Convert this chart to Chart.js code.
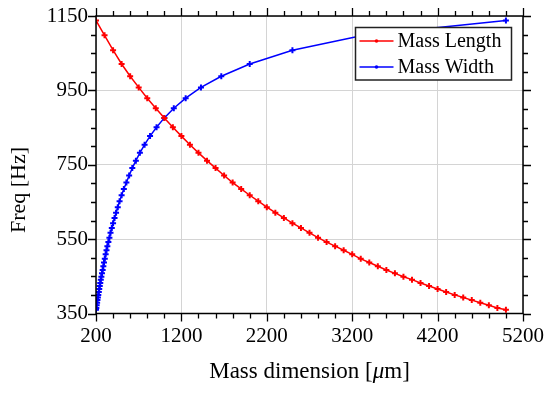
<!DOCTYPE html>
<html>
<head>
<meta charset="utf-8">
<script src="https://cdn.jsdelivr.net/npm/chart.js@4/dist/chart.umd.min.js"></script>
<style>
html,body{margin:0;padding:0;background:#fff;}
#wrap{width:550px;height:393px;position:relative;}
</style>
</head>
<body>
<div id="wrap"><canvas id="c" width="550" height="393"></canvas></div>
<script>
// Mass Length series: x = mass length [um], y = frequency [Hz]
const lengthX = [200,300,400,500,600,700,800,900,1000,1100,1200,1300,1400,1500,1600,1700,1800,1900,2000,2100,2200,2300,2400,2500,2600,2700,2800,2900,3000,3100,3200,3300,3400,3500,3600,3700,3800,3900,4000,4100,4200,4300,4400,4500,4600,4700,4800,4900,5000];
const lengthFreq = [1138,1098,1058,1021,988,958,929,902,876,851,827,804,782,761,741,721,702,685,668,652,636,621,607,593,580,567,554,542,531,520,509,497,487,477,467,458,449,441,432,424,416,408,400,393,386,379,372,365,360];
// Mass Width series
const widthX = [5000,3333,2500,2000,1667,1429,1250,1111,1000,909,833,769,714,667,625,588,556,526,500,476,455,435,417,400,385,370,357,345,333,323,313,303,294,286,278,270,263,256,250,244,238,233,227,222,217,213,208,204,200];
const widthFreq = [1138,1098,1058,1021,988,958,929,902,876,851,827,804,782,761,741,721,702,685,668,652,636,621,607,593,580,567,554,542,531,520,509,497,487,477,467,458,449,441,432,424,416,408,400,393,386,379,372,365,360];
const seriesNames = ["Mass Length","Mass Width"];
const xTickValues = [200,1200,2200,3200,4200,5200];
const yTickValues = [350,550,750,950,1150];
const xTitleMain = "Mass dimension [";
const xTitleMu = "\u03BC";
const xTitleEnd = "m]";
const yTitle = "Freq [Hz]";

const FONT = "'Liberation Serif','Times New Roman',serif";
const TARGET = { left: 96, top: 16, right: 523, bottom: 313.5 };

const framePlugin = {
  id: 'frame',
  afterDraw(chart) {
    const ctx = chart.ctx;
    const a = chart.chartArea;
    const xs = chart.scales.x, ys = chart.scales.y;
    ctx.save();
    ctx.strokeStyle = '#000';
    ctx.lineWidth = 1.5;
    ctx.strokeRect(a.left, a.top, a.right - a.left, a.bottom - a.top);
    ctx.lineWidth = 1.3;
    ctx.beginPath();
    for (let v = xs.min; v <= xs.max + 1e-6; v += 200) {
      const px = Math.round(xs.getPixelForValue(v)) + 0.5;
      const major = ((v - 200) % 1000) === 0;
      const len = major ? 8 : 5;
      ctx.moveTo(px, a.bottom); ctx.lineTo(px, a.bottom + len);
      ctx.moveTo(px, a.top); ctx.lineTo(px, a.top - len);
    }
    for (let v = ys.min; v <= ys.max + 1e-6; v += 50) {
      const py = Math.round(ys.getPixelForValue(v)) + 0.5;
      const major = ((v - 350) % 200) === 0;
      const len = major ? 8 : 5;
      ctx.moveTo(a.left, py); ctx.lineTo(a.left - len, py);
      ctx.moveTo(a.right, py); ctx.lineTo(a.right + len, py);
    }
    ctx.stroke();

    // axis titles
    ctx.fillStyle = '#000';
    const XF = 23;
    ctx.font = XF + 'px ' + FONT;
    ctx.textBaseline = 'middle';
    const w1 = ctx.measureText(xTitleMain).width;
    ctx.font = 'italic ' + XF + 'px ' + FONT;
    const w2 = ctx.measureText(xTitleMu).width;
    ctx.font = XF + 'px ' + FONT;
    const w3 = ctx.measureText(xTitleEnd).width;
    const cx = (a.left + a.right) / 2;
    let sx = cx - (w1 + w2 + w3) / 2;
    const ty = 372;
    ctx.textAlign = 'left';
    ctx.fillText(xTitleMain, sx, ty);
    ctx.font = 'italic ' + XF + 'px ' + FONT;
    ctx.fillText(xTitleMu, sx + w1, ty);
    ctx.font = XF + 'px ' + FONT;
    ctx.fillText(xTitleEnd, sx + w1 + w2, ty);

    ctx.save();
    ctx.translate(19, 190);
    ctx.rotate(-Math.PI / 2);
    ctx.textAlign = 'center';
    ctx.font = '22px ' + FONT;
    ctx.fillText(yTitle, 0, 0);
    ctx.restore();

    // legend
    const lx = 355.5, ly = 27.5, lw = 156, lh = 52.5;
    ctx.fillStyle = '#fff';
    ctx.fillRect(lx, ly, lw, lh);
    ctx.strokeStyle = '#222';
    ctx.lineWidth = 1.5;
    ctx.strokeRect(lx, ly, lw, lh);
    chart.data.datasets.forEach((ds, i) => {
      const yy = ly + 13.5 + i * 26;
      ctx.strokeStyle = ds.borderColor;
      ctx.lineWidth = 1.5;
      ctx.beginPath();
      ctx.moveTo(lx + 4, yy); ctx.lineTo(lx + 38, yy);
      ctx.stroke();
      ctx.fillStyle = ds.borderColor;
      ctx.beginPath();
      ctx.arc(lx + 21, yy, 1.8, 0, Math.PI * 2);
      ctx.fill();
      ctx.fillStyle = '#000';
      ctx.font = '20px ' + FONT;
      ctx.textAlign = 'left';
      ctx.textBaseline = 'middle';
      ctx.fillText(ds.label, lx + 42, yy + 1);
    });
    ctx.restore();
  }
};

const layoutPad = { top: 16, right: 27, left: 0, bottom: 0 };
const fit = { yWidth: 96, xHeight: 79.5 };
function zeroPad(scale) {
  scale.paddingTop = 0; scale.paddingBottom = 0;
  scale.paddingLeft = 0; scale.paddingRight = 0;
}

const chart = new Chart(document.getElementById('c'), {
  type: 'scatter',
  data: {
    datasets: [
      {
        label: seriesNames[0],
        data: lengthX.map((x, i) => ({x: x, y: lengthFreq[i]})),
        showLine: true,
        borderColor: '#ff0000',
        backgroundColor: '#ff0000',
        borderWidth: 1.5,
        pointStyle: 'cross',
        pointRadius: 3,
        pointBorderWidth: 2,
        pointHoverRadius: 3,
        tension: 0
      },
      {
        label: seriesNames[1],
        data: widthX.map((x, i) => ({x: x, y: widthFreq[i]})),
        showLine: true,
        borderColor: '#0000ff',
        backgroundColor: '#0000ff',
        borderWidth: 1.5,
        pointStyle: 'cross',
        pointRadius: 3,
        pointBorderWidth: 2,
        pointHoverRadius: 3,
        tension: 0
      }
    ]
  },
  options: {
    responsive: false,
    animation: false,
    devicePixelRatio: 1,
    layout: { padding: layoutPad },
    plugins: { legend: { display: false }, tooltip: { enabled: false } },
    scales: {
      x: {
        type: 'linear',
        min: 200, max: 5200,
        afterBuildTicks(scale) { scale.ticks = xTickValues.map(v => ({value: v})); },
        afterFit(scale) { scale.height = fit.xHeight; zeroPad(scale); },
        grid: { color: '#d4d4d4', lineWidth: 1, drawTicks: false },
        border: { display: false },
        ticks: { padding: 10, color: '#000', font: { family: FONT, size: 21 }, maxRotation: 0, autoSkip: false,
                 callback: v => String(v) }
      },
      y: {
        type: 'linear',
        min: 350, max: 1150,
        afterBuildTicks(scale) { scale.ticks = yTickValues.map(v => ({value: v})); },
        afterFit(scale) { scale.width = fit.yWidth; zeroPad(scale); },
        grid: { color: '#d4d4d4', lineWidth: 1, drawTicks: false },
        border: { display: false },
        ticks: { padding: 8, color: '#000', font: { family: FONT, size: 21 }, autoSkip: false,
                 callback: v => String(v) }
      }
    }
  },
  plugins: [framePlugin]
});

// nudge the layout so the plot area lands where the reference has it
for (let k = 0; k < 3; k++) {
  const a = chart.chartArea;
  layoutPad.top += TARGET.top - a.top;
  layoutPad.right += a.right - TARGET.right;
  fit.yWidth += TARGET.left - a.left;
  fit.xHeight += a.bottom - TARGET.bottom;
  chart.options.layout.padding = Object.assign({}, layoutPad);
  chart.update('none');
}
</script>
</body>
</html>
